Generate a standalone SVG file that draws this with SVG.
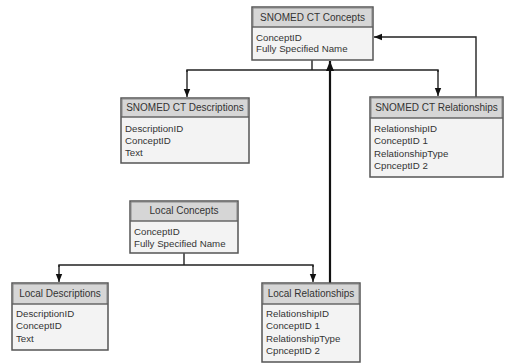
<svg xmlns="http://www.w3.org/2000/svg" width="506" height="364" viewBox="0 0 506 364">
  <defs>
    <marker id="arrow" viewBox="0 0 10 10" refX="10" refY="5" markerWidth="8" markerHeight="8" markerUnits="userSpaceOnUse" orient="auto">
      <path d="M0,1 L10,5 L0,9 z" fill="#111"/>
    </marker>
    <marker id="arrowBig" viewBox="0 0 10 10" refX="10" refY="5" markerWidth="10" markerHeight="10" markerUnits="userSpaceOnUse" orient="auto">
      <path d="M0,1 L10,5 L0,9 z" fill="#111"/>
    </marker>
  </defs>
  <style>
    .box { fill: #f3f3f3; stroke: #555; stroke-width: 1.5; }
    .head { fill: #d6d6d6; stroke: #777; stroke-width: 0.8; }
    .sep { stroke: #555; stroke-width: 1; }
    text { font-family: "Liberation Sans", Arial, sans-serif; font-size: 9.7px; fill: #333; }
    .title { text-anchor: middle; font-size: 10px; }
    .line { fill: none; stroke: #222; stroke-width: 1.4; }
    .thick { fill: none; stroke: #111; stroke-width: 2.2; }
  </style>
  <rect width="506" height="364" fill="#ffffff"/>

  <!-- connectors -->
  <g id="connectors">
    <!-- SNOMED CT Concepts fan-out -->
    <line class="line" x1="312" y1="60" x2="312" y2="70"/>
    <polyline class="line" points="187,72 187,70 438,70 438,72"/>
    <line class="line" x1="187" y1="70" x2="187" y2="97" marker-end="url(#arrow)"/>
    <line class="line" x1="438" y1="70" x2="438" y2="96" marker-end="url(#arrow)"/>
    <!-- relationships back to concepts -->
    <polyline class="line" points="476,97 476,37 374,37" marker-end="url(#arrow)"/>
    <!-- local concepts fan-out -->
    <line class="line" x1="184" y1="253" x2="184" y2="265"/>
    <polyline class="line" points="59,267 59,265 313,265 313,267"/>
    <line class="line" x1="59" y1="265" x2="59" y2="282" marker-end="url(#arrow)"/>
    <line class="line" x1="313" y1="265" x2="313" y2="282" marker-end="url(#arrow)"/>
    <!-- local relationships up to SNOMED CT concepts -->
    <line class="thick" x1="330" y1="283" x2="330" y2="61" marker-end="url(#arrowBig)"/>
  </g>

  <g id="snomed-concepts">
    <rect class="box" x="252" y="7" width="121" height="53"/>
    <rect class="head" x="253" y="8" width="119" height="19"/>
    <line class="sep" x1="252" y1="27" x2="373" y2="27"/>
    <text class="title" x="312.5" y="20.5">SNOMED CT Concepts</text>
    <text x="256" y="40.5">ConceptID</text>
    <text x="256" y="52">Fully Specified Name</text>
  </g>

  <g id="snomed-descriptions">
    <rect class="box" x="121" y="98" width="128" height="65"/>
    <rect class="head" x="122" y="99" width="126" height="18"/>
    <line class="sep" x1="121" y1="117" x2="249" y2="117"/>
    <text class="title" x="185" y="110.5">SNOMED CT Descriptions</text>
    <text x="125" y="131.5">DescriptionID</text>
    <text x="125" y="143.5">ConceptID</text>
    <text x="125" y="156">Text</text>
  </g>

  <g id="snomed-relationships">
    <rect class="box" x="370" y="97" width="133" height="80"/>
    <rect class="head" x="371" y="98" width="131" height="20"/>
    <line class="sep" x1="370" y1="118" x2="503" y2="118"/>
    <text class="title" x="436.5" y="110.5">SNOMED CT Relationships</text>
    <text x="374" y="131.5">RelationshipID</text>
    <text x="374" y="144">ConceptID 1</text>
    <text x="374" y="156.5">RelationshipType</text>
    <text x="374" y="168.5">CpnceptID 2</text>
  </g>

  <g id="local-concepts">
    <rect class="box" x="130" y="201" width="108" height="52"/>
    <rect class="head" x="131" y="202" width="106" height="19"/>
    <line class="sep" x1="130" y1="221" x2="238" y2="221"/>
    <text class="title" x="184" y="214">Local Concepts</text>
    <text x="134" y="234.5">ConceptID</text>
    <text x="134" y="246.5">Fully Specified Name</text>
  </g>

  <g id="local-descriptions">
    <rect class="box" x="12" y="283" width="96" height="67"/>
    <rect class="head" x="13" y="284" width="94" height="20"/>
    <line class="sep" x1="12" y1="304" x2="108" y2="304"/>
    <text class="title" x="60" y="297">Local Descriptions</text>
    <text x="16" y="316.5">DescriptionID</text>
    <text x="16" y="329">ConceptID</text>
    <text x="16" y="341.5">Text</text>
  </g>

  <g id="local-relationships">
    <rect class="box" x="262" y="283" width="98" height="79"/>
    <rect class="head" x="263" y="284" width="96" height="20"/>
    <line class="sep" x1="262" y1="304" x2="360" y2="304"/>
    <text class="title" x="311" y="297">Local Relationships</text>
    <text x="266" y="316.5">RelationshipID</text>
    <text x="266" y="329">ConceptID 1</text>
    <text x="266" y="341.5">RelationshipType</text>
    <text x="266" y="353.5">CpnceptID 2</text>
  </g>
</svg>
